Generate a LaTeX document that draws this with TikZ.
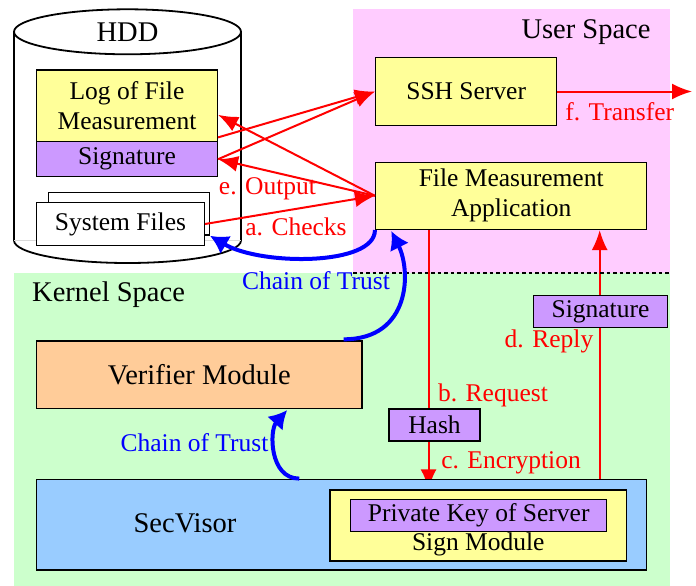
\documentclass[tikz,border=0pt]{standalone}
\usepackage{fontspec}
\setmainfont{Liberation Serif}
\usetikzlibrary{arrows.meta,calc}
\pgfdeclarelayer{bg}
\pgfdeclarelayer{lines}
\pgfsetlayers{bg,lines,main}
\definecolor{boxyellow}{HTML}{FFFF99}
\definecolor{boxpurple}{HTML}{CC99FF}
\definecolor{boxorange}{HTML}{FFCC99}
\definecolor{boxblue}{HTML}{99CCFF}
\definecolor{userpink}{HTML}{FFCCFF}
\definecolor{kerngreen}{HTML}{CCFFCC}
\newcommand{\lblfont}{\fontsize{25.5}{30}\selectfont}
\newcommand{\bigfont}{\fontsize{28.5}{32}\selectfont}
\begin{document}
\begin{tikzpicture}[x=1pt,y=-1pt,
  box/.style={draw=black, line width=1.5pt, inner sep=0pt, align=center, font=\lblfont},
  txt/.style={inner sep=0pt, align=center, font=\lblfont},
  bigtxt/.style={inner sep=0pt, align=center, font=\bigfont},
  redtxt/.style={txt, text=red},
  bluetxt/.style={txt, text=blue},
  redarrow/.style={draw=red, line width=2pt, -{Latex[length=20pt,width=16pt]}},
  bluearrow/.style={draw=blue, line width=4pt, -{Latex[length=18pt,width=21pt]}}]
\useasboundingbox (0,0) rectangle (696,586);

% regions
\begin{pgfonlayer}{bg}
\fill[userpink] (353,9) rectangle (670,272.7);
\fill[kerngreen] (14,272.7) rectangle (670,586);
\end{pgfonlayer}
\coordinate (dashl) at (353,272.7);
\coordinate (dashr) at (670,272.7);
\draw[draw=black, line width=1.6pt, dash pattern=on 3.5pt off 3pt] (dashl) -- (dashr);

% HDD cylinder
\draw[line width=1.8pt, fill=white] (14,31.8) -- (14,240.5)
  arc[start angle=180, end angle=360, x radius=113.5pt, y radius=22.5pt] -- (241,31.8);
\draw[line width=1.8pt, fill=white] (127.5,31.8) ellipse [x radius=113.5pt, y radius=22.5pt];
\draw[black!15, line width=1pt] (14,240.5) -- (241,240.5);
\node[bigtxt] (hdd) at (127.5,32) {HDD};

\node[bigtxt] (user) at (586,32) {User Space};
\node[bigtxt, anchor=west] (kernel) at (32,295) {Kernel Space};

% HDD content
\node[box, fill=boxyellow, minimum width=180.6pt, minimum height=71.7pt] (log) at (127,105.8) {Log of File\\Measurement};
\node[box, fill=boxpurple, minimum width=180.6pt, minimum height=35pt] (sighdd) at (127,159.2) {Signature};
\node[box, fill=white, minimum width=160.6pt, minimum height=42.7pt] (sysback) at (129,213.7) {};
\node[box, fill=white, minimum width=167.6pt, minimum height=43.4pt] (sys) at (120.5,224) {System Files};

% user space
\node[box, fill=boxyellow, minimum width=181pt, minimum height=68.4pt] (ssh) at (466.2,91.5) {SSH Server};
\node[box, fill=boxyellow, minimum width=271pt, minimum height=67pt] (fma) at (511.2,195.8) {File Measurement\\Application};

% kernel space
\node[box, fill=boxorange, font=\bigfont, minimum width=325.3pt, minimum height=67.3pt] (verifier) at (199.3,374.7) {Verifier Module};
\node[box, fill=boxblue, minimum width=610pt, minimum height=90.7pt] (secvisor) at (341.7,524.7) {};
\node[bigtxt] (secvisortxt) at (185,523.3) {SecVisor};
\node[box, fill=boxyellow, minimum width=296.7pt, minimum height=71pt] (signmod) at (478.3,525.5) {};
\node[box, fill=boxpurple, minimum width=256pt, minimum height=32.4pt] (privkey) at (478.7,515.5) {Private Key of Server};
\node[txt] (signmodtxt) at (478.3,544) {Sign Module};
\node[box, fill=boxpurple, minimum width=91pt, minimum height=32pt] (hash) at (434.5,425) {Hash};
\node[box, fill=boxpurple, minimum width=134.4pt, minimum height=32pt] (sigout) at (600.5,311.7) {Signature};

% red arrows HDD <-> user space
\draw[redarrow] ($(log.south east)+(0,-5)$) -- (ssh.west);
\draw[redarrow] (sighdd.east) -- (ssh.west);
\draw[redarrow] (fma.west) -- ($(log.east)+(0,9)$);
\draw[redarrow] (fma.west) -- (sighdd.east);
\draw[redarrow] (sys.east) -- (fma.west);
\node[redtxt] (lblout) at (267.5,189) {e. Output};
\node[redtxt] (lblchk) at (296,227) {a. Checks};

% transfer
\coordinate (outend) at (692,91.5);
\draw[redarrow] (ssh.east) -- (outend);
\node[redtxt] (lbltr) at (619.7,111.7) {f. Transfer};

% request / reply lines
\coordinate (bstart) at ($(fma.south west)+(53.6,0)$);
\coordinate (dstart) at ($(signmod.north east)+(-27.7,0)$);
\begin{pgfonlayer}{lines}
\draw[redarrow] (bstart) -- (bstart |- signmod.north);
\draw[redarrow] (dstart) -- (dstart |- fma.south);
\end{pgfonlayer}
\node[redtxt] (lblreq) at (493,395) {b. Request};
\node[redtxt] (lblenc) at (511,463.3) {c. Encryption};
\node[redtxt] (lblrep) at (549,341.7) {d. Reply};

% chain of trust
\coordinate (c1end) at (sysback.south east);
\draw[bluearrow] (fma.south west) .. controls +(0,36) and +(51,30) .. (c1end);
\coordinate (c2start) at ($(verifier.north east)+(-19,-1)$);
\coordinate (c2end) at ($(fma.south west)+(16.3,1)$);
\draw[bluearrow] (c2start) .. controls +(67,0) and +(20,40) .. (c2end);
\node[bluetxt] (cot1) at (316,281) {Chain of Trust};
\coordinate (c3start) at ($(secvisor.north west)+(263.3,0)$);
\coordinate (c3end) at ($(verifier.south west)+(251.3,1)$);
\draw[bluearrow] (c3start) .. controls +(-30,0) and +(-18,20) .. (c3end);
\node[bluetxt] (cot2) at (194.5,443) {Chain of Trust};
\end{tikzpicture}
\end{document}
